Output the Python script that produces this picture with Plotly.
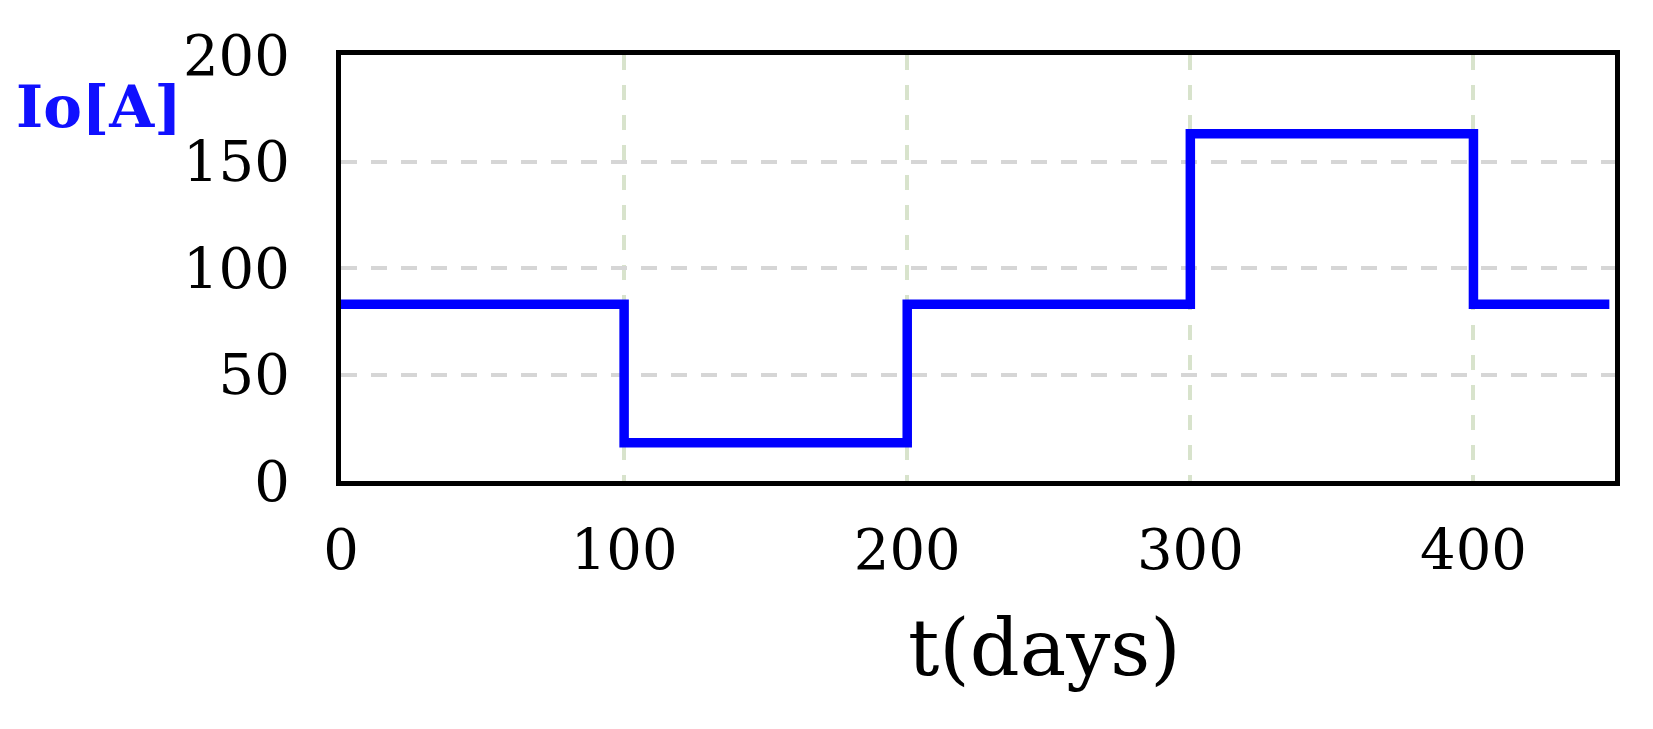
import plotly.graph_objects as go

# step profile of the output current
t_days = [0, 100, 200, 300, 400, 448]
io_amps = [83, 18, 83, 163, 83, 83]

x_ticks = [0, 100, 200, 300, 400]
y_ticks = [0, 50, 100, 150, 200]

# page body adds an 8px offset, so margins are pulled in by that much
W, H = 1653, 729
L, T = 332.5, 47
pw, ph = 1275, 426
R, B = W - L - pw, H - T - ph

fig = go.Figure()
fig.add_trace(go.Scatter(
    x=t_days, y=io_amps,
    mode="lines", line=dict(color="#0000ff", width=9.5, shape="hv"),
    showlegend=False,
))

font = "DejaVu Serif"
fig.update_layout(
    width=W, height=H,
    margin=dict(l=L, r=R, t=T, b=B),
    paper_bgcolor="white", plot_bgcolor="white",
    font=dict(family=font, color="black"),
)
fig.update_xaxes(
    range=[0, 450], tickvals=x_ticks, ticks="",
    tickfont=dict(size=56, family=font, color="black"),
    ticklabelstandoff=16,
    showgrid=True, gridcolor="#d8e3cc", gridwidth=4, griddash="15px,15px",
    showline=True, linecolor="black", linewidth=5, mirror=True,
    zeroline=False,
)
fig.update_yaxes(
    range=[0, 200], tickvals=y_ticks, ticks="",
    tickfont=dict(size=56, family=font, color="black"),
    ticklabelstandoff=35,
    showgrid=True, gridcolor="#d6d6d6", gridwidth=4, griddash="16px,14px",
    showline=True, linecolor="black", linewidth=5, mirror=True,
    zeroline=False,
)

fig.add_annotation(
    text="<b>Io[A]</b>", xref="paper", yref="paper",
    x=(5 - L) / pw, y=(T + ph - 99) / ph,
    xanchor="left", yanchor="middle", showarrow=False,
    font=dict(family=font, size=58, color="#1010ff"),
)
fig.add_annotation(
    text="t(days)", xref="paper", yref="paper",
    x=(1037 - L) / pw, y=(T + ph - 640) / ph,
    xanchor="center", yanchor="middle", showarrow=False,
    font=dict(family=font, size=78, color="black"),
)

fig.write_html("out.html")
